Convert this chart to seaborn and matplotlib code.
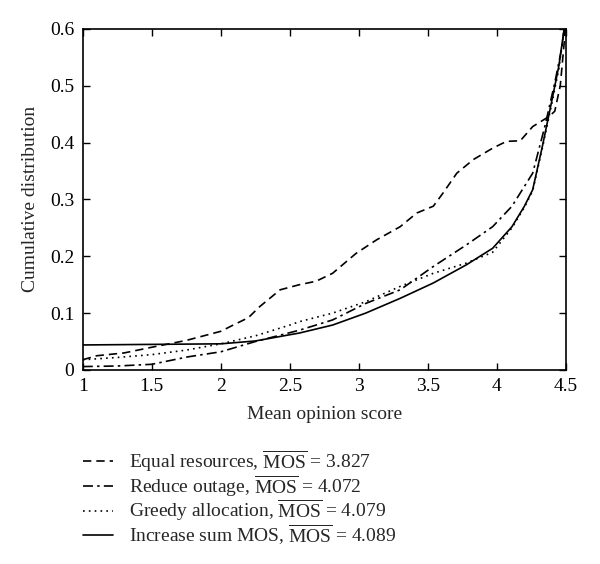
import matplotlib
matplotlib.use("Agg")
import matplotlib.pyplot as plt
import seaborn as sns
import numpy as np

# Data
eq_x = [1.0, 1.1, 1.3, 1.5, 1.75, 2.0, 2.09, 2.2, 2.28, 2.43, 2.57, 2.69, 2.81, 2.98, 3.13, 3.30, 3.42, 3.54, 3.61, 3.71, 3.83, 3.97, 4.07, 4.17, 4.26, 4.38, 4.42, 4.46, 4.49, 4.5]
eq_y = [0.018, 0.025, 0.030, 0.040, 0.052, 0.068, 0.079, 0.092, 0.111, 0.141, 0.150, 0.156, 0.170, 0.205, 0.229, 0.252, 0.276, 0.288, 0.311, 0.346, 0.370, 0.390, 0.402, 0.403, 0.428, 0.446, 0.455, 0.50, 0.58, 0.62]

ro_x = [1.0, 1.25, 1.5, 1.76, 2.0, 2.25, 2.57, 2.81, 3.05, 3.30, 3.54, 3.78, 3.97, 4.11, 4.26, 4.35, 4.42, 4.47, 4.5]
ro_y = [0.006, 0.007, 0.010, 0.023, 0.032, 0.050, 0.070, 0.088, 0.117, 0.141, 0.182, 0.220, 0.252, 0.288, 0.346, 0.430, 0.505, 0.565, 0.62]

gr_x = [1.0, 1.25, 1.5, 1.75, 2.0, 2.25, 2.5, 2.57, 2.81, 3.05, 3.30, 3.54, 3.78, 3.97, 4.11, 4.2, 4.26, 4.33, 4.4, 4.45, 4.5]
gr_y = [0.018, 0.022, 0.027, 0.035, 0.046, 0.060, 0.079, 0.085, 0.100, 0.120, 0.147, 0.170, 0.188, 0.207, 0.250, 0.286, 0.315, 0.390, 0.470, 0.530, 0.62]

is_x = [1.0, 1.5, 2.0, 2.25, 2.5, 2.57, 2.81, 3.05, 3.30, 3.54, 3.78, 3.97, 4.11, 4.2, 4.26, 4.33, 4.4, 4.45, 4.5]
is_y = [0.044, 0.045, 0.046, 0.051, 0.062, 0.065, 0.079, 0.100, 0.126, 0.153, 0.185, 0.214, 0.252, 0.288, 0.317, 0.393, 0.475, 0.535, 0.62]

labels = [r"Equal resources, $\overline{\mathrm{MOS}}$ = 3.827",
          r"Reduce outage, $\overline{\mathrm{MOS}}$ = 4.072",
          r"Greedy allocation, $\overline{\mathrm{MOS}}$ = 4.079",
          r"Increase sum MOS, $\overline{\mathrm{MOS}}$ = 4.089"]

xticks = [1, 1.5, 2, 2.5, 3, 3.5, 4, 4.5]
xticklabels = ["1", "1.5", "2", "2.5", "3", "3.5", "4", "4.5"]
yticks = [0, 0.1, 0.2, 0.3, 0.4, 0.5, 0.6]
yticklabels = ["0", "0.1", "0.2", "0.3", "0.4", "0.5", "0.6"]

sns.set_style("ticks")
plt.rcParams['font.family'] = ['Liberation Serif', 'DejaVu Serif']
plt.rcParams['mathtext.fontset'] = 'custom'
plt.rcParams['mathtext.rm'] = 'Liberation Serif'
plt.rcParams['xtick.direction'] = 'in'
plt.rcParams['ytick.direction'] = 'in'

fig = plt.figure(figsize=(6, 5.64), dpi=100)
ax = fig.add_axes([0.138, 0.344, 0.805, 0.605])

lw = 1.2
sns.lineplot(x=eq_x, y=eq_y, ax=ax, color="black", lw=lw, label=labels[0],
             estimator=None, sort=False)
ax.lines[-1].set_dashes([5, 3])
sns.lineplot(x=ro_x, y=ro_y, ax=ax, color="black", lw=lw, label=labels[1],
             estimator=None, sort=False)
ax.lines[-1].set_dashes([6, 2.5, 1.5, 2.5])
sns.lineplot(x=gr_x, y=gr_y, ax=ax, color="black", lw=lw, label=labels[2],
             estimator=None, sort=False)
ax.lines[-1].set_dashes([1, 2.5])
sns.lineplot(x=is_x, y=is_y, ax=ax, color="black", lw=lw, label=labels[3],
             estimator=None, sort=False)

ax.set_xlim(1, 4.5)
ax.set_ylim(0, 0.6)
ax.set_xticks(xticks)
ax.set_xticklabels(xticklabels)
ax.set_yticks(yticks)
ax.set_yticklabels(yticklabels)
ax.tick_params(axis='both', which='both', top=True, right=True, labelsize=14,
               length=5, width=1.0, color='black', labelcolor='black', pad=6)
for s in ax.spines.values():
    s.set_linewidth(1.2)
    s.set_color('black')
ax.set_xlabel("Mean opinion score", fontsize=14, labelpad=8)
ax.set_ylabel("Cumulative distribution", fontsize=14, labelpad=8)

handles, labs = ax.get_legend_handles_labels()
ax.get_legend().remove()
fig.legend(handles, labs, loc="upper left", bbox_to_anchor=(0.138, 0.205),
           frameon=False, fontsize=14, handlelength=1.55, handletextpad=0.85,
           labelspacing=-0.06, borderaxespad=0, borderpad=0)

fig.savefig("out.png", dpi=100)
